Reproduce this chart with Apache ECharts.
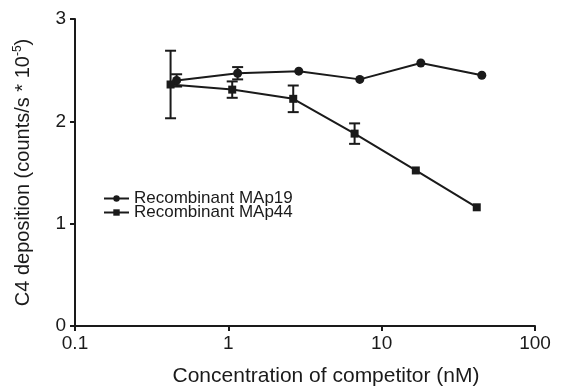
<!DOCTYPE html>
<html>
<head>
<meta charset="utf-8">
<script src="https://cdn.jsdelivr.net/npm/echarts@6/dist/echarts.min.js"></script>
<style>
  html, body { margin: 0; padding: 0; background: #fff; }
  #chart { width: 562px; height: 388px; }
</style>
</head>
<body>
<div id="chart"></div>
<script>
// concentrations (nM) and C4 deposition values
const map19Conc = [0.46, 1.15, 2.88, 7.2, 18, 45];
const map19Value = [2.40, 2.47, 2.49, 2.41, 2.57, 2.45];
const map19Err = [0.06, 0.06, 0, 0, 0, 0];

const map44Conc = [0.42, 1.06, 2.65, 6.66, 16.7, 41.7];
const map44Value = [2.36, 2.31, 2.22, 1.88, 1.52, 1.16];
const map44Err = [0.33, 0.08, 0.13, 0.10, 0, 0];

const seriesNames = ['Recombinant MAp19', 'Recombinant MAp44'];
const xTicks = [0.1, 1, 10, 100];
const yTicks = [0, 1, 2, 3];

const font = 'Liberation Sans, Arial, sans-serif';
const ink = '#1a1a1a';
const fs = 19;

const chart = echarts.init(document.getElementById('chart'));

function pairs(xs, ys) {
  return xs.map((x, i) => [x, ys[i]]);
}

function errData(xs, ys, es) {
  return xs.map((x, i) => [x, ys[i] - es[i], ys[i] + es[i]]).filter((d, i) => es[i] > 0);
}

function renderErr(params, api) {
  const x = api.value(0);
  const lo = api.coord([x, api.value(1)]);
  const hi = api.coord([x, api.value(2)]);
  const w = 5.5;
  const style = { stroke: ink, lineWidth: 2 };
  return {
    type: 'group',
    children: [
      { type: 'line', shape: { x1: lo[0], y1: lo[1], x2: hi[0], y2: hi[1] }, style },
      { type: 'line', shape: { x1: lo[0] - w, y1: lo[1], x2: lo[0] + w, y2: lo[1] }, style },
      { type: 'line', shape: { x1: hi[0] - w, y1: hi[1], x2: hi[0] + w, y2: hi[1] }, style }
    ]
  };
}

// one legend per row so the rows can sit as close as in the figure
const legendRow = (name, top) => ({
  orient: 'vertical',
  left: 103,
  top: top,
  padding: 0,
  itemWidth: 25,
  itemHeight: 8,
  textStyle: { fontSize: 17, color: ink, fontFamily: font },
  data: [name]
});

const option = {
  animation: false,
  textStyle: { fontFamily: font, color: ink },
  grid: { left: 75, right: 27, top: 19, bottom: 62, outerBoundsMode: 'none' },
  legend: [legendRow(seriesNames[0], 190), legendRow(seriesNames[1], 204)],
  xAxis: {
    type: 'log',
    logBase: 10,
    min: xTicks[0],
    max: xTicks[xTicks.length - 1],
    name: 'Concentration of competitor (nM)',
    nameLocation: 'middle',
    nameGap: 40,
    nameTextStyle: { fontSize: 21, color: ink, padding: [0, 0, 0, 42] },
    axisLine: { lineStyle: { color: ink, width: 2 } },
    axisTick: { show: true, length: 5, lineStyle: { color: ink, width: 2 } },
    minorTick: { show: false },
    splitLine: { show: false },
    axisLabel: {
      fontSize: fs, color: ink, margin: 8,
      formatter: v => String(+v.toPrecision(3))
    }
  },
  yAxis: {
    type: 'value',
    min: yTicks[0],
    max: yTicks[yTicks.length - 1],
    interval: 1,
    name: '{a|C4 deposition (counts/s * 10}{s|-5}{a|)}',
    nameLocation: 'middle',
    nameGap: 41,
    nameTextStyle: {
      color: ink,
      rich: {
        a: { fontSize: 20, lineHeight: 22, fontFamily: font, color: ink },
        s: { fontSize: 12, lineHeight: 12, verticalAlign: 'top', fontFamily: font, color: ink }
      }
    },
    axisLine: { show: true, lineStyle: { color: ink, width: 2 } },
    axisTick: { show: true, length: 5, lineStyle: { color: ink, width: 2 } },
    splitLine: { show: false },
    axisLabel: { fontSize: fs, color: ink, margin: 9 }
  },
  series: [
    {
      name: seriesNames[0],
      type: 'line',
      data: pairs(map19Conc, map19Value),
      symbol: 'circle',
      symbolSize: 9,
      itemStyle: { color: ink },
      lineStyle: { color: ink, width: 2 },
      z: 3
    },
    {
      name: seriesNames[1],
      type: 'line',
      data: pairs(map44Conc, map44Value),
      symbol: 'rect',
      symbolSize: 8,
      itemStyle: { color: ink },
      lineStyle: { color: ink, width: 2 },
      z: 3
    },
    {
      name: 'MAp19 error',
      type: 'custom',
      renderItem: renderErr,
      data: errData(map19Conc, map19Value, map19Err),
      z: 2
    },
    {
      name: 'MAp44 error',
      type: 'custom',
      renderItem: renderErr,
      data: errData(map44Conc, map44Value, map44Err),
      z: 2
    }
  ]
};

chart.setOption(option);
</script>
</body>
</html>
